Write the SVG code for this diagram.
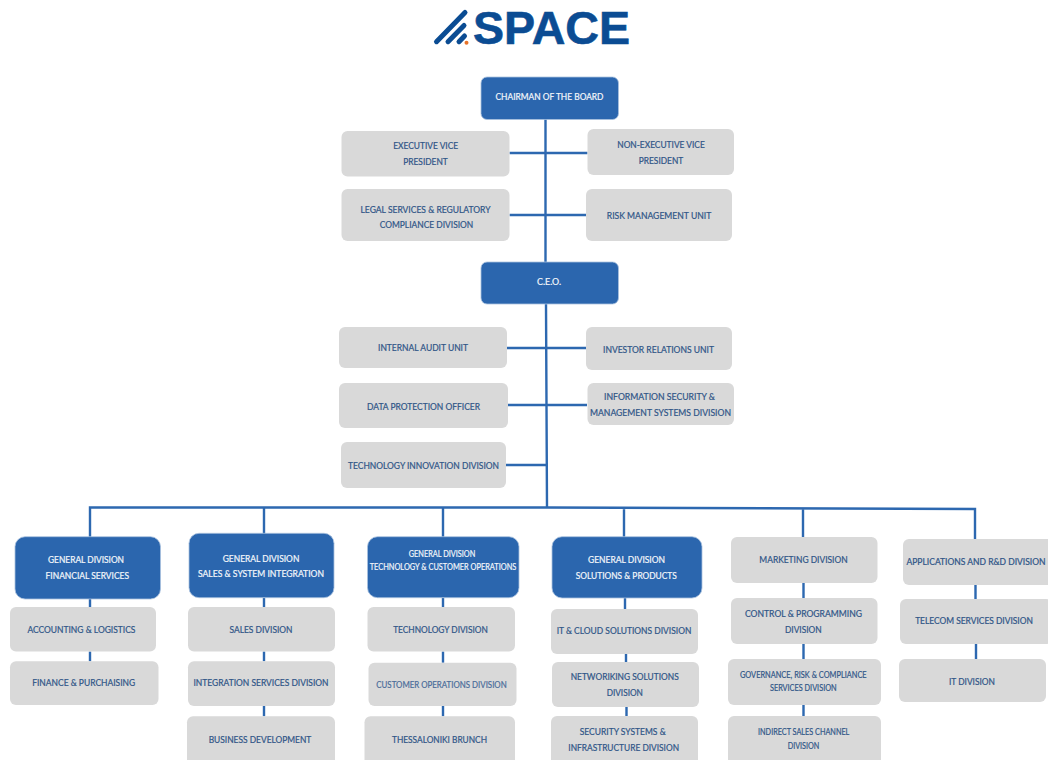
<svg xmlns="http://www.w3.org/2000/svg" width="1048" height="760" viewBox="0 0 1048 760">
<style>
text{font-family:Lato,"Liberation Sans",Arial,sans-serif;font-size:9.800px;text-anchor:middle;stroke-width:.22px}
.b rect{fill:#2b66ae;stroke:#a9c1de;stroke-width:.8}
.g rect{fill:#d9d9d9}
.b text{fill:#f4f7fb;stroke:#f4f7fb}
.g text{fill:#2f5587;stroke:#2f5587}
.s{font-size:9.200px}
.xs{font-size:8.600px}
#connectors path{fill:none;stroke:#2d68b0;stroke-width:2.400}
#logo path{fill:none;stroke:#0b4c93;stroke-width:5;stroke-linecap:round}
#logo text{font-family:"Liberation Sans",Arial,sans-serif;font-weight:700;font-size:46px;fill:#0b4c93;stroke:#0b4c93;stroke-width:.6px}
</style>
<rect width="1048" height="760" fill="#fff"/>
<g id="logo">
<path d="M436.500 41.700L465 12.500M448 41.700L464 25.500M459 41.700L464.500 36"/>
<circle cx="466.500" cy="42.800" r="2" fill="#e8742a"/>
<text x="551.500" y="43.500" textLength="157" lengthAdjust="spacingAndGlyphs">SPACE</text>
</g>
<g id="connectors">
<path d="M545.500 119V262M546 304L547 508M509.500 153H587.500M509.500 215H586M507 348H586M508 405H587M506 465H547"/>
<path d="M90 537V507.500H547L975 509V539M264 534V507.500M443 537V507.500M624 537V508.500M803 537V508.500"/>
<path d="M90 599V607M90 651.500V661.300M264 598V607M264 651.500V661.300M264 706V716.300M443 598V607M443 651.500V662.700M443 706V716.300"/>
<path d="M625 598V609M626 654V662M626.500 707V716M803.500 583V598M803.500 644V659M803.500 705V716M975.500 585V599M976 644V659"/>
</g>
<g id="chairman" class="b"><rect x="481" y="77" width="137.500" height="42.500" rx="6"/><text x="549.500" y="100.300" textLength="108" lengthAdjust="spacingAndGlyphs">CHAIRMAN OF THE BOARD</text></g>
<g id="exec-vp" class="g"><rect x="341.500" y="131" width="168" height="45.500" rx="6"/><text x="425.700" y="149.300" textLength="65" lengthAdjust="spacingAndGlyphs">EXECUTIVE VICE</text><text x="425.500" y="165" textLength="44.500" lengthAdjust="spacingAndGlyphs">PRESIDENT</text></g>
<g id="nonexec-vp" class="g"><rect x="587.500" y="129" width="146.500" height="46" rx="6"/><text x="661" y="148" textLength="87.500" lengthAdjust="spacingAndGlyphs">NON-EXECUTIVE VICE</text><text x="661" y="163.800" textLength="44.500" lengthAdjust="spacingAndGlyphs">PRESIDENT</text></g>
<g id="legal" class="g"><rect x="341.500" y="189" width="168" height="52" rx="6"/><text x="425.500" y="213" textLength="130" lengthAdjust="spacingAndGlyphs">LEGAL SERVICES &amp; REGULATORY</text><text x="426.500" y="227.500" textLength="93.500" lengthAdjust="spacingAndGlyphs">COMPLIANCE DIVISION</text></g>
<g id="risk" class="g"><rect x="586" y="189" width="146" height="52" rx="6"/><text x="659" y="219" textLength="104.500" lengthAdjust="spacingAndGlyphs">RISK MANAGEMENT UNIT</text></g>
<g id="ceo" class="b"><rect x="481" y="262" width="137.500" height="42" rx="6"/><text x="549" y="285.300" textLength="24" lengthAdjust="spacingAndGlyphs">C.E.O.</text></g>
<g id="audit" class="g"><rect x="339" y="327" width="168" height="41" rx="6"/><text x="423" y="351" textLength="90" lengthAdjust="spacingAndGlyphs">INTERNAL AUDIT UNIT</text></g>
<g id="investor" class="g"><rect x="586" y="327" width="146" height="43" rx="6"/><text x="658.500" y="352.500" textLength="111" lengthAdjust="spacingAndGlyphs">INVESTOR RELATIONS UNIT</text></g>
<g id="dpo" class="g"><rect x="339" y="383" width="169" height="45" rx="6"/><text x="423.500" y="410" textLength="113" lengthAdjust="spacingAndGlyphs">DATA PROTECTION OFFICER</text></g>
<g id="infosec" class="g"><rect x="587.500" y="383" width="146.500" height="42" rx="6"/><text x="659.500" y="400" textLength="111" lengthAdjust="spacingAndGlyphs">INFORMATION SECURITY &amp;</text><text x="660.500" y="416" textLength="141" lengthAdjust="spacingAndGlyphs">MANAGEMENT SYSTEMS DIVISION</text></g>
<g id="tech-innovation" class="g"><rect x="341" y="442" width="165" height="46" rx="6"/><text x="423.500" y="468.500" textLength="151" lengthAdjust="spacingAndGlyphs">TECHNOLOGY INNOVATION DIVISION</text></g>
<g id="gd-financial" class="b"><rect x="15" y="536.700" width="145.500" height="62.300" rx="10"/><text x="86" y="562.700" textLength="76" lengthAdjust="spacingAndGlyphs">GENERAL DIVISION</text><text x="87.300" y="578.700" textLength="83.500" lengthAdjust="spacingAndGlyphs">FINANCIAL SERVICES</text></g>
<g id="gd-sales" class="b"><rect x="189" y="533.300" width="145" height="64.400" rx="10"/><text x="261" y="561.700" textLength="76.700" lengthAdjust="spacingAndGlyphs">GENERAL DIVISION</text><text x="261" y="577.300" textLength="126" lengthAdjust="spacingAndGlyphs">SALES &amp; SYSTEM INTEGRATION</text></g>
<g id="gd-tech" class="b"><rect x="367.500" y="536.700" width="151.500" height="61" rx="10"/><text x="442" y="556.700" textLength="66.500" lengthAdjust="spacingAndGlyphs">GENERAL DIVISION</text><text x="443" y="570" textLength="146.600" lengthAdjust="spacingAndGlyphs">TECHNOLOGY &amp; CUSTOMER OPERATIONS</text></g>
<g id="gd-solutions" class="b"><rect x="552" y="536.700" width="150" height="61.300" rx="10"/><text x="626.500" y="562.700" textLength="77" lengthAdjust="spacingAndGlyphs">GENERAL DIVISION</text><text x="626.300" y="578.700" textLength="101" lengthAdjust="spacingAndGlyphs">SOLUTIONS &amp; PRODUCTS</text></g>
<g id="accounting" class="g"><rect x="10" y="607" width="146" height="44.500" rx="6"/><text x="81.400" y="632.700" textLength="108" lengthAdjust="spacingAndGlyphs">ACCOUNTING &amp; LOGISTICS</text></g>
<g id="finance" class="g"><rect x="10" y="661.300" width="148.500" height="43.700" rx="6"/><text x="83.700" y="686.300" textLength="103" lengthAdjust="spacingAndGlyphs">FINANCE &amp; PURCHAISING</text></g>
<g id="sales" class="g"><rect x="188" y="607" width="147" height="44.500" rx="6"/><text x="261" y="632.700" textLength="63" lengthAdjust="spacingAndGlyphs">SALES DIVISION</text></g>
<g id="integration" class="g"><rect x="188" y="661.300" width="147" height="44.700" rx="6"/><text x="261" y="686.300" textLength="135" lengthAdjust="spacingAndGlyphs">INTEGRATION SERVICES DIVISION</text></g>
<g id="business" class="g"><rect x="187" y="716.300" width="148" height="53" rx="6"/><text x="260" y="742.700" textLength="102.700" lengthAdjust="spacingAndGlyphs">BUSINESS DEVELOPMENT</text></g>
<g id="technology" class="g"><rect x="367.500" y="607" width="147.500" height="44.500" rx="6"/><text x="440.500" y="632.700" textLength="94.600" lengthAdjust="spacingAndGlyphs">TECHNOLOGY DIVISION</text></g>
<g id="customer-ops" class="g"><rect x="368.500" y="662.700" width="148" height="43.300" rx="6"/><text x="441.500" y="687.700" textLength="130.400" lengthAdjust="spacingAndGlyphs" style="fill:#4a6c99;stroke:#4a6c99">CUSTOMER OPERATIONS DIVISION</text></g>
<g id="thessaloniki" class="g"><rect x="364.500" y="716.300" width="150.500" height="53" rx="6"/><text x="439.500" y="742.700" textLength="95" lengthAdjust="spacingAndGlyphs">THESSALONIKI BRUNCH</text></g>
<g id="it-cloud" class="g"><rect x="551" y="609" width="147" height="45" rx="6"/><text x="624" y="633.700" textLength="134.700" lengthAdjust="spacingAndGlyphs">IT &amp; CLOUD SOLUTIONS DIVISION</text></g>
<g id="networking" class="g"><rect x="552" y="662" width="147" height="45" rx="6"/><text x="624.700" y="680.300" textLength="108" lengthAdjust="spacingAndGlyphs">NETWORIKING SOLUTIONS</text><text x="624.800" y="696.300" textLength="36.300" lengthAdjust="spacingAndGlyphs">DIVISION</text></g>
<g id="security" class="g"><rect x="551" y="716" width="147" height="54" rx="6"/><text x="622.700" y="735" textLength="86" lengthAdjust="spacingAndGlyphs">SECURITY SYSTEMS &amp;</text><text x="623.700" y="751" textLength="110.700" lengthAdjust="spacingAndGlyphs">INFRASTRUCTURE DIVISION</text></g>
<g id="marketing" class="g"><rect x="731" y="537" width="146.500" height="46" rx="6"/><text x="803.500" y="562.700" textLength="88.300" lengthAdjust="spacingAndGlyphs">MARKETING DIVISION</text></g>
<g id="control" class="g"><rect x="731" y="598" width="146.500" height="46" rx="6"/><text x="803.500" y="616.700" textLength="117" lengthAdjust="spacingAndGlyphs">CONTROL &amp; PROGRAMMING</text><text x="803.300" y="632.700" textLength="36.700" lengthAdjust="spacingAndGlyphs">DIVISION</text></g>
<g id="governance" class="g"><rect x="728" y="659" width="153" height="46" rx="6"/><text x="803.300" y="678" textLength="126.700" lengthAdjust="spacingAndGlyphs">GOVERNANCE, RISK &amp; COMPLIANCE</text><text x="803.300" y="691.300" textLength="66.700" lengthAdjust="spacingAndGlyphs">SERVICES DIVISION</text></g>
<g id="indirect" class="g"><rect x="728" y="716" width="153" height="54" rx="6"/><text x="803.700" y="735.300" textLength="91.300" lengthAdjust="spacingAndGlyphs">INDIRECT SALES CHANNEL</text><text x="803.500" y="748.700" textLength="31.700" lengthAdjust="spacingAndGlyphs">DIVISION</text></g>
<g id="applications" class="g"><rect x="903" y="539" width="150" height="46" rx="6"/><text class="xs" x="976" y="565" textLength="139" lengthAdjust="spacingAndGlyphs">APPLICATIONS AND R&amp;D DIVISION</text></g>
<g id="telecom" class="g"><rect x="900" y="599" width="152" height="45" rx="6"/><text class="s" x="974" y="624" textLength="117.700" lengthAdjust="spacingAndGlyphs">TELECOM SERVICES DIVISION</text></g>
<g id="it" class="g"><rect x="899" y="659" width="147" height="43" rx="6"/><text x="972" y="685.300" textLength="46" lengthAdjust="spacingAndGlyphs">IT DIVISION</text></g>
</svg>
